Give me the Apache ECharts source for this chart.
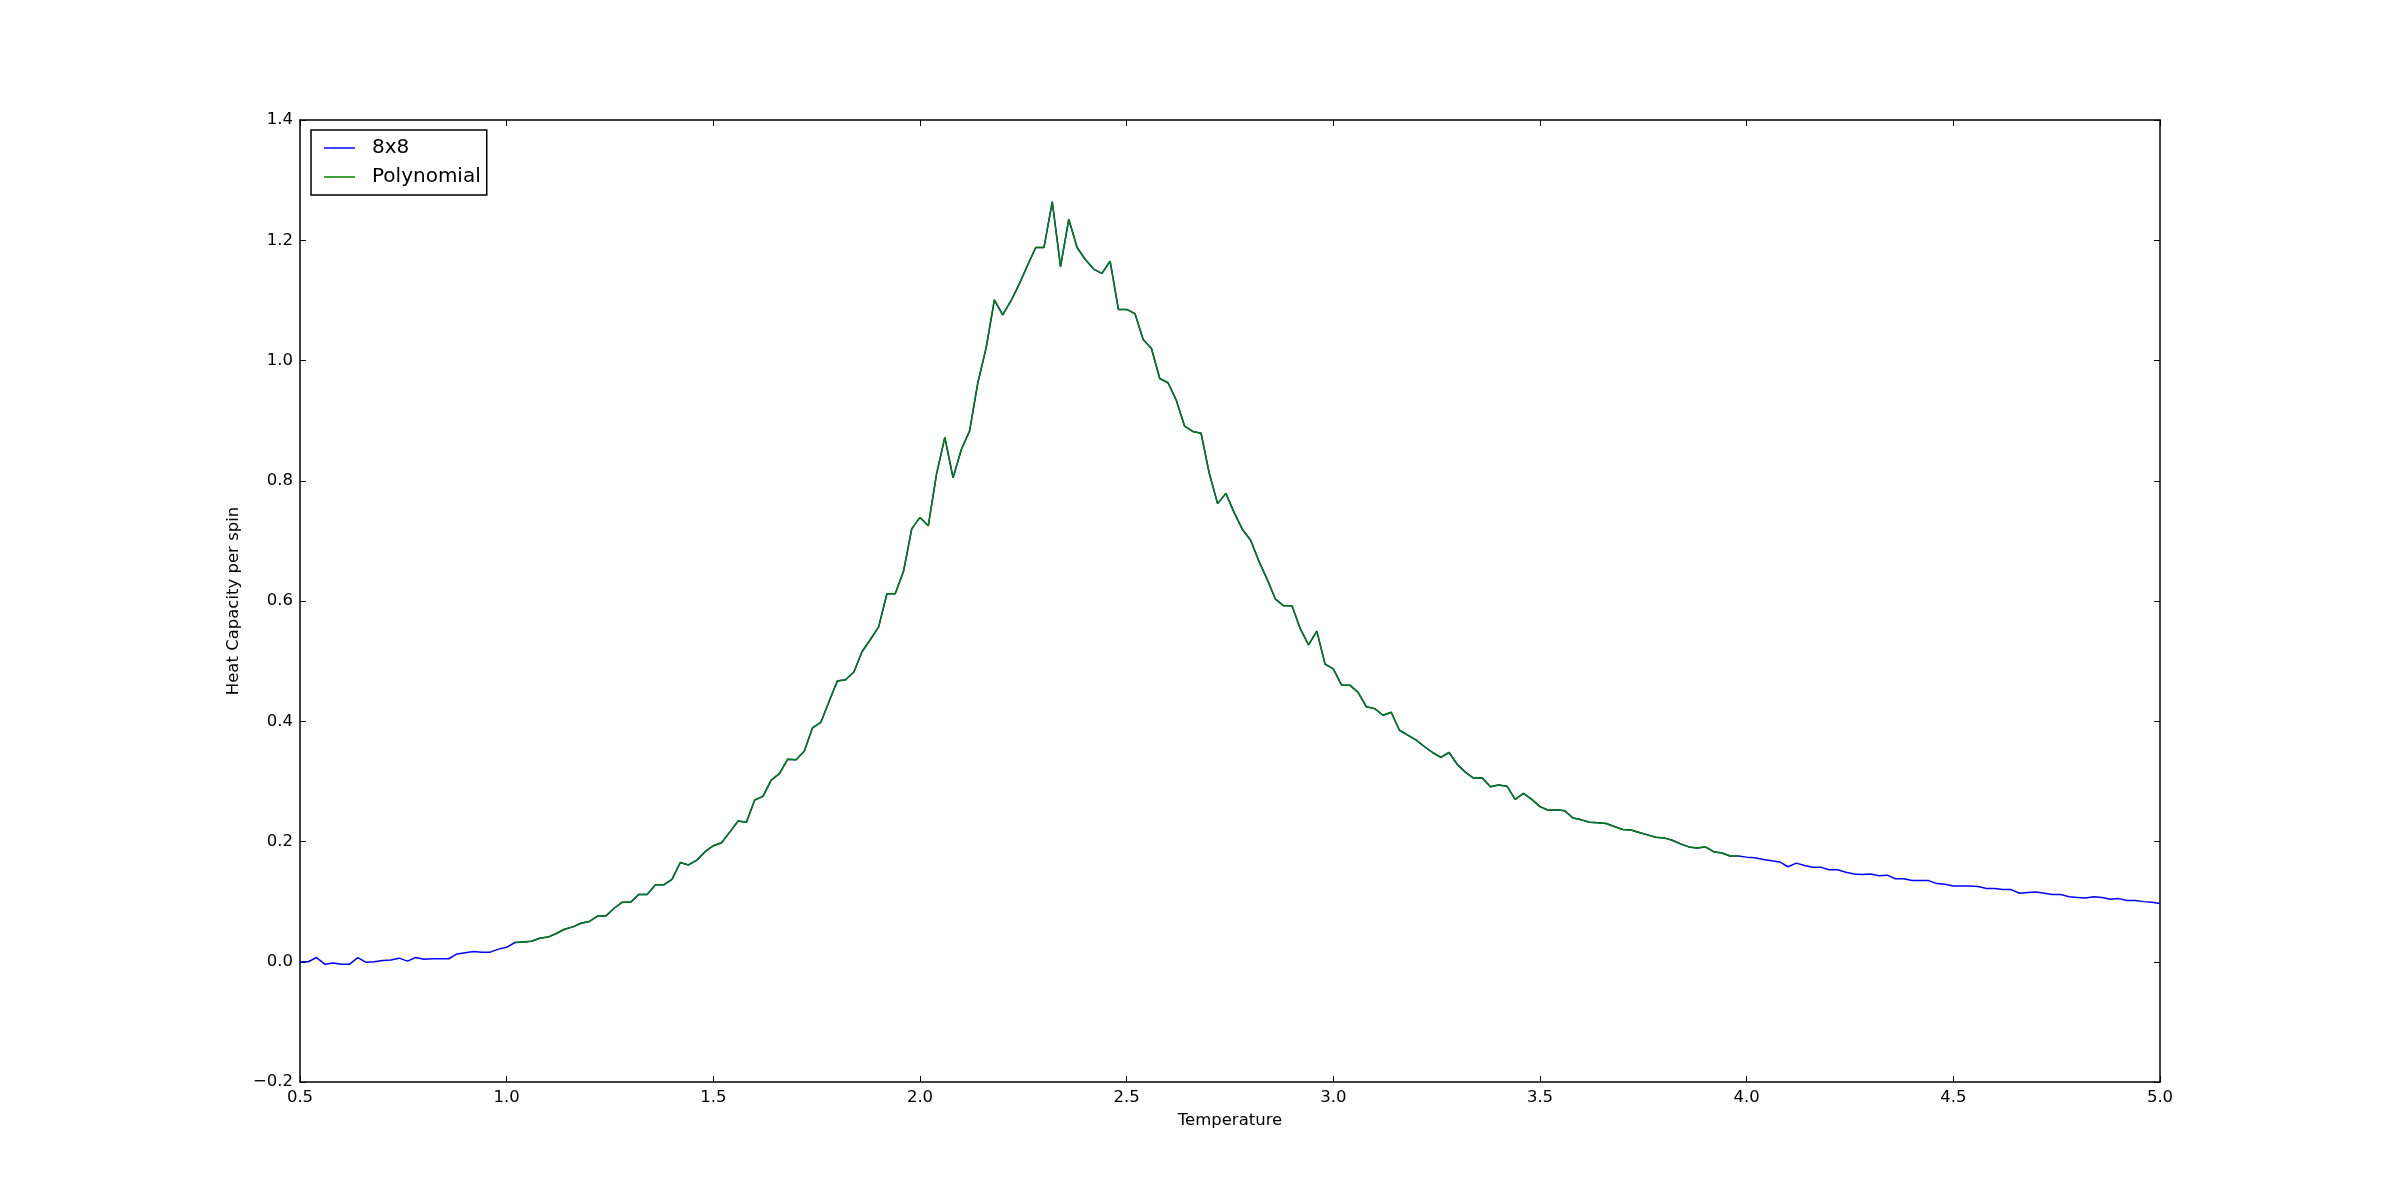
<!DOCTYPE html>
<html>
<head>
<meta charset="utf-8">
<script src="https://cdn.jsdelivr.net/npm/echarts@6/dist/echarts.min.js"></script>
<style>
html,body{margin:0;padding:0;background:#fff;}
#chart{width:2400px;height:1203px;}
</style>
</head>
<body>
<div id="chart"></div>
<script>
// Temperature grid of the samples
const tStart = 0.5;
const tStep = 0.02;
// Heat capacity per spin, 8x8 lattice (T = 0.50 ... 5.00)
const heatCapacity8x8 = [
  0.000, 0.000, 0.007, -0.004, -0.002, -0.004, -0.004, 0.007, -0.001, 0.000,
  0.002, 0.003, 0.006, 0.001, 0.007, 0.004, 0.005, 0.005, 0.005, 0.013,
  0.015, 0.017, 0.016, 0.016, 0.021, 0.024, 0.032, 0.033, 0.034, 0.039,
  0.041, 0.047, 0.054, 0.058, 0.064, 0.067, 0.076, 0.076, 0.089, 0.099,
  0.099, 0.112, 0.112, 0.128, 0.128, 0.137, 0.165, 0.161, 0.169, 0.183,
  0.193, 0.198, 0.216, 0.234, 0.232, 0.269, 0.275, 0.302, 0.313, 0.337,
  0.336, 0.350, 0.389, 0.398, 0.433, 0.467, 0.469, 0.482, 0.516, 0.536,
  0.557, 0.612, 0.612, 0.649, 0.720, 0.739, 0.725, 0.811, 0.872, 0.805,
  0.852, 0.883, 0.963, 1.021, 1.101, 1.076, 1.099, 1.127, 1.158, 1.188,
  1.188, 1.264, 1.156, 1.235, 1.188, 1.168, 1.152, 1.145, 1.165, 1.085,
  1.085, 1.078, 1.035, 1.020, 0.970, 0.963, 0.934, 0.891, 0.882, 0.879,
  0.812, 0.762, 0.779, 0.747, 0.719, 0.701, 0.666, 0.636, 0.603, 0.592,
  0.592, 0.554, 0.527, 0.550, 0.495, 0.487, 0.460, 0.460, 0.448, 0.424,
  0.421, 0.410, 0.415, 0.385, 0.377, 0.369, 0.358, 0.348, 0.340, 0.348,
  0.328, 0.315, 0.305, 0.306, 0.291, 0.294, 0.292, 0.270, 0.280, 0.270,
  0.258, 0.252, 0.253, 0.251, 0.239, 0.236, 0.232, 0.231, 0.230, 0.225,
  0.220, 0.219, 0.215, 0.211, 0.207, 0.206, 0.202, 0.196, 0.191, 0.189,
  0.191, 0.183, 0.181, 0.176, 0.176, 0.174, 0.173, 0.170, 0.168, 0.166,
  0.158, 0.164, 0.160, 0.157, 0.157, 0.153, 0.153, 0.149, 0.146, 0.145,
  0.146, 0.143, 0.144, 0.138, 0.138, 0.135, 0.135, 0.135, 0.130, 0.129,
  0.126, 0.126, 0.126, 0.125, 0.122, 0.122, 0.120, 0.120, 0.114, 0.115,
  0.116, 0.114, 0.112, 0.112, 0.108, 0.107, 0.106, 0.108, 0.107, 0.104,
  0.105, 0.102, 0.102, 0.100, 0.099, 0.097
];
// Range of the polynomial curve (overlays the data)
const polyFrom = 1.02;
const polyTo = 3.98;
const seriesNames = ['8x8', 'Polynomial'];
const seriesColors = ['#0000ff', '#008000'];
const xTicks = [0.5, 1.0, 1.5, 2.0, 2.5, 3.0, 3.5, 4.0, 4.5, 5.0];
const yTicks = [-0.2, 0.0, 0.2, 0.4, 0.6, 0.8, 1.0, 1.2, 1.4];

const pts = heatCapacity8x8.map((v, i) => [+(tStart + i * tStep).toFixed(2), v]);
const polyPts = pts.filter(p => p[0] >= polyFrom - 1e-9 && p[0] <= polyTo + 1e-9);

const FONT = 'DejaVu Sans';
const fmt = v => {
  const s = (Math.round(v * 10) / 10).toFixed(1);
  return s.replace('-', '\u2212');
};
const lineStyle = { color: '#000', width: 1.5 };
const tick = { show: true, inside: true, length: 6, lineStyle: { color: '#000', width: 1 } };

const chart = echarts.init(document.getElementById('chart'), null, { renderer: 'canvas' });
chart.setOption({
  backgroundColor: '#fff',
  animation: false,
  textStyle: { fontFamily: FONT },
  grid: { left: 300, right: 240, top: 120, bottom: 121, containLabel: false },
  legend: {
    left: 311, top: 130,
    orient: 'vertical',
    data: seriesNames.map(n => ({ name: n, icon: 'rect' })),
    itemWidth: 31, itemHeight: 1.5,
    itemGap: 9,
    padding: [8, 6, 8, 13],
    borderColor: '#000', borderWidth: 1.5,
    backgroundColor: '#fff',
    textStyle: { fontFamily: FONT, fontSize: 20, color: '#000', lineHeight: 20, padding: [0, 0, 0, 12] }
  },
  xAxis: [{
    type: 'value', min: xTicks[0], max: xTicks[xTicks.length - 1], interval: 0.5,
    name: 'Temperature', nameLocation: 'middle', nameGap: 30,
    nameTextStyle: { fontFamily: FONT, fontSize: 16.5, color: '#000' },
    axisLine: { show: true, onZero: false, lineStyle },
    axisTick: tick,
    axisLabel: { fontFamily: FONT, fontSize: 16.5, color: '#000', margin: 7, formatter: fmt },
    splitLine: { show: false }
  }, {
    type: 'value', position: 'top', min: xTicks[0], max: xTicks[xTicks.length - 1], interval: 0.5,
    axisLine: { show: true, onZero: false, lineStyle },
    axisTick: tick, axisLabel: { show: false }, splitLine: { show: false }
  }],
  yAxis: [{
    type: 'value', min: yTicks[0], max: yTicks[yTicks.length - 1], interval: 0.2,
    name: 'Heat Capacity per spin', nameLocation: 'middle', nameGap: 52,
    nameTextStyle: { fontFamily: FONT, fontSize: 16.5, color: '#000' },
    axisLine: { show: true, onZero: false, lineStyle },
    axisTick: tick,
    axisLabel: { fontFamily: FONT, fontSize: 16.5, color: '#000', margin: 7, formatter: fmt },
    splitLine: { show: false }
  }, {
    type: 'value', position: 'right', min: yTicks[0], max: yTicks[yTicks.length - 1], interval: 0.2,
    axisLine: { show: true, onZero: false, lineStyle },
    axisTick: tick, axisLabel: { show: false }, splitLine: { show: false }
  }],
  series: [{
    name: seriesNames[0], type: 'line', data: pts,
    showSymbol: false, symbol: 'none',
    lineStyle: { color: seriesColors[0], width: 1.5 },
    itemStyle: { color: seriesColors[0] },
    z: 2
  }, {
    name: seriesNames[1], type: 'line', data: polyPts,
    showSymbol: false, symbol: 'none',
    lineStyle: { color: seriesColors[1], width: 1.5 },
    itemStyle: { color: seriesColors[1] },
    z: 3
  }]
});
</script>
</body>
</html>
